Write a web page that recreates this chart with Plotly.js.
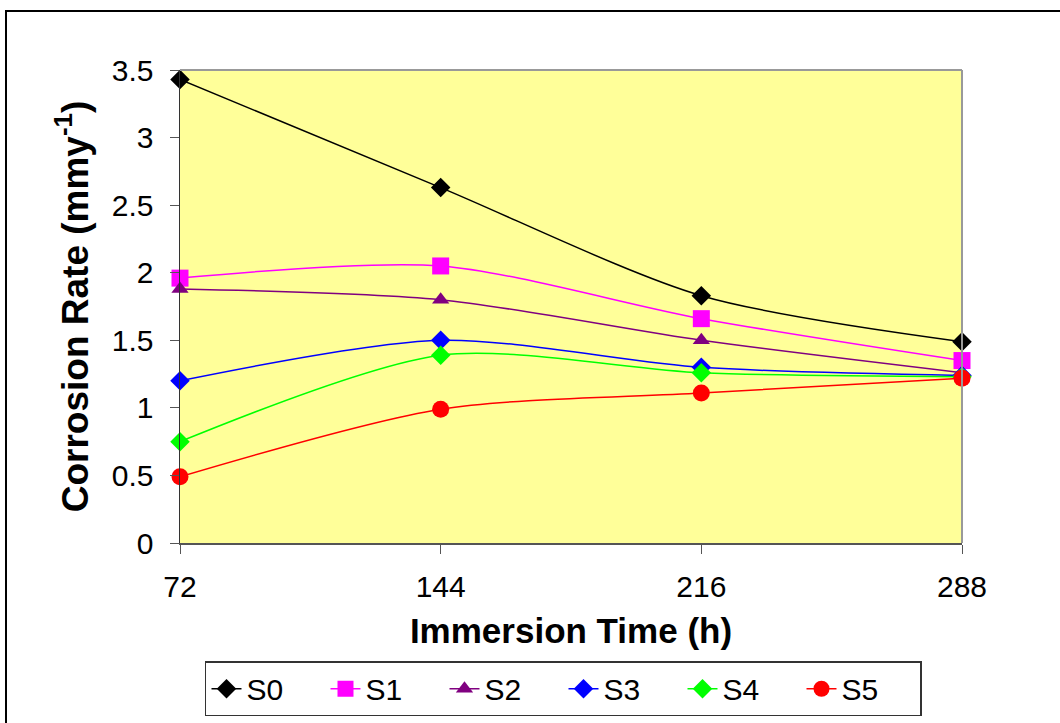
<!DOCTYPE html>
<html><head><meta charset="utf-8">
<script src="https://cdn.plot.ly/plotly-3.0.1.min.js"></script>
<style>
html,body{margin:0;padding:0;background:#fff;overflow:hidden;}
#wrap{position:relative;width:1060px;height:723px;}
#chart{width:1060px;height:723px;}
#frame{position:absolute;left:5px;top:10px;width:1070px;height:730px;border:2px solid #000;pointer-events:none;box-sizing:border-box;}
</style></head>
<body><div id="wrap"><div id="chart"></div><div id="frame"></div></div>
<script>
const times = [72, 144, 216, 288];
const seriesNames = ["S0", "S1", "S2", "S3", "S4", "S5"];
const S0 = [3.43, 2.63, 1.83, 1.49];
const S1 = [1.96, 2.05, 1.66, 1.35];
const S2 = [1.88, 1.80, 1.50, 1.26];
const S3 = [1.20, 1.50, 1.30, 1.24];
const S4 = [0.75, 1.39, 1.26, 1.23];
const S5 = [0.49, 0.99, 1.11, 1.22];
const yTicks = [0, 0.5, 1, 1.5, 2, 2.5, 3, 3.5];

const values = [S0, S1, S2, S3, S4, S5];
const colors = ["#000000", "#FF00FF", "#800080", "#0000FF", "#00FF00", "#FF0000"];
const symbols = ["diamond", "square", "triangle-up", "diamond", "diamond", "circle"];
const sizes = [15, 17, 15, 15, 15, 17];

const traces = values.map((v, i) => ({
  x: times, y: v, name: seriesNames[i], type: "scatter", mode: "lines+markers",
  line: {color: colors[i], width: 1.5, shape: "spline", smoothing: 0.8},
  marker: {color: colors[i], symbol: symbols[i], size: sizes[i], line: {width: 0}},
  cliponaxis: false
}));

const layout = {
  width: 1060, height: 723,
  margin: {l: 180, r: 98, t: 70, b: 180, autoexpand: false},
  paper_bgcolor: "#ffffff", plot_bgcolor: "#FFFF99",
  font: {family: "Liberation Sans, Arial, sans-serif", color: "#000"},
  showlegend: true,
  legend: {orientation: "h", x: 0.4904, xanchor: "center", y: -0.25, yanchor: "top",
    bordercolor: "#333", borderwidth: 1.5, font: {size: 30},
    entrywidth: 74, entrywidthmode: "pixels", tracegroupgap: 0},
  xaxis: {range: [72, 288], tickvals: times, ticktext: times.map(String),
    showgrid: false, zeroline: false, showline: true, linecolor: "#555", linewidth: 1.5,
    ticks: "outside", ticklen: 9, tickcolor: "#555", tickfont: {size: 30},
    ticklabelstandoff: 7, automargin: false,
    title: {text: "<b>Immersion Time (h)</b>", font: {size: 35}, standoff: 17}},
  yaxis: {range: [0, 3.5], tickvals: yTicks, ticktext: yTicks.map(String),
    showgrid: false, zeroline: false, showline: true, linecolor: "#333", linewidth: 1.5,
    ticks: "outside", ticklen: 9, tickcolor: "#555", tickfont: {size: 30},
    ticklabelstandoff: 10, automargin: false,
    title: {text: "<b>Corrosion Rate (mmy<sup>-1</sup>)</b>", font: {size: 37}, standoff: 12}},
  shapes: [
    {type: "line", xref: "paper", yref: "paper", x0: 0, x1: 1, y0: 1, y1: 1, line: {color: "#999", width: 2}},
    {type: "line", xref: "paper", yref: "paper", x0: 1, x1: 1, y0: 0, y1: 1, line: {color: "#999", width: 2}}
  ]
};
Plotly.newPlot("chart", traces, layout, {displayModeBar: false, staticPlot: true});
</script></body></html>
